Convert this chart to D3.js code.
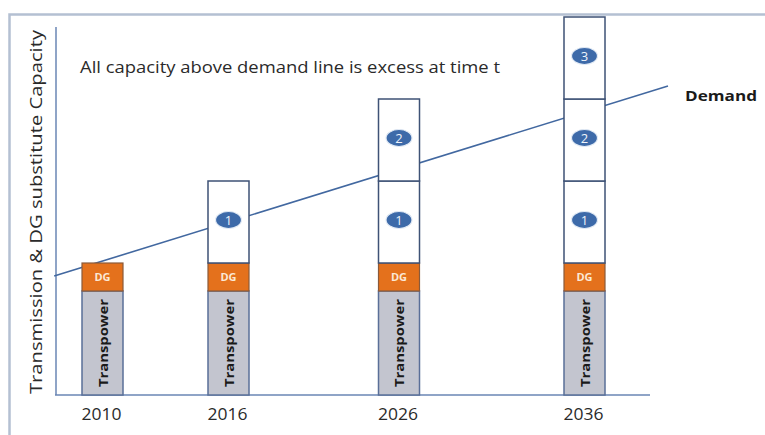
<!DOCTYPE html>
<html>
<head>
<meta charset="utf-8">
<script src="https://cdn.jsdelivr.net/npm/d3@7"></script>
<style>
  html, body { margin: 0; padding: 0; background: #fff; }
  svg { display: block; }
</style>
</head>
<body>
<svg id="chart" width="765" height="435"></svg>
<script>
// ---- data ----
const years = [2010, 2016, 2026, 2036];
const transpower = [10.4, 10.4, 10.4, 10.4];
const dg = [2.8, 2.8, 2.8, 2.8];
const upgradeBlocks = [0, 1, 2, 3];      // number of numbered capacity blocks per year
const blockSize = 8.2;
const demandYears = [2007.7, 2040.5];
const demandValues = [11.9, 30.9];
const annotation = "All capacity above demand line is excess at time t";
const yLabel = "Transmission & DG substitute Capacity";

// ---- layout ----
const svg = d3.select("#chart");
const x = d3.scaleLinear().domain(years).range([102.5, 228.5, 399, 584.5]);
const y = d3.scaleLinear().domain([0, 38]).range([395, 15]);
const barW = 41;
const font = "Open Sans, sans-serif";

// outer frame
svg.append("path")
  .attr("d", "M9.5,435 L9.5,14.5 L765,14.5")
  .attr("fill", "none").attr("stroke", "#b4c0d2").attr("stroke-width", 2.5);

// axes
svg.append("line").attr("x1", 56).attr("x2", 56).attr("y1", 27).attr("y2", y(0))
  .attr("stroke", "#6a86b4").attr("stroke-width", 1.5);
svg.append("line").attr("x1", 55).attr("x2", 650).attr("y1", y(0)).attr("y2", y(0))
  .attr("stroke", "#6a86b4").attr("stroke-width", 1.5);

// demand line (drawn beneath the bars)
const line = d3.line().x(d => x(d[0])).y(d => y(d[1]));
svg.append("path")
  .datum(demandYears.map((yr, i) => [yr, demandValues[i]]))
  .attr("d", line)
  .attr("fill", "none").attr("stroke", "#4268a0").attr("stroke-width", 1.6);

const bars = years.map((yr, i) => ({yr, tp: transpower[i], dg: dg[i], n: upgradeBlocks[i]}));
const strokeCol = "#3e5276";

const g = svg.selectAll("g.bar").data(bars).enter().append("g").attr("class", "bar");

// Transpower
g.append("rect")
  .attr("x", d => x(d.yr) - barW / 2).attr("width", barW)
  .attr("y", d => y(d.tp)).attr("height", d => y(0) - y(d.tp))
  .attr("fill", "#c3c5cf").attr("stroke", "#5a6f98").attr("stroke-width", 1.5);
g.append("text")
  .attr("transform", d => `translate(${x(d.yr) + 5},${(y(0) + y(d.tp)) / 2}) rotate(-90)`)
  .attr("text-anchor", "middle")
  .attr("font-family", font).attr("font-weight", "bold")
  .attr("font-size", 12.5).attr("fill", "#1a1a1a")
  .attr("textLength", 88).attr("lengthAdjust", "spacingAndGlyphs")
  .text("Transpower");

// DG
g.append("rect")
  .attr("x", d => x(d.yr) - barW / 2).attr("width", barW)
  .attr("y", d => y(d.tp + d.dg)).attr("height", d => y(d.tp) - y(d.tp + d.dg))
  .attr("fill", "#e4711c").attr("stroke", "#8a5a3a").attr("stroke-width", 1.2);
g.append("text")
  .attr("x", d => x(d.yr)).attr("y", d => (y(d.tp) + y(d.tp + d.dg)) / 2 + 4)
  .attr("text-anchor", "middle")
  .attr("font-family", font).attr("font-weight", "bold")
  .attr("font-size", 11).attr("fill", "#fbe8d6")
  .text("DG");

// numbered blocks
const blocks = [];
bars.forEach(d => {
  for (let k = 1; k <= d.n; k++) {
    blocks.push({yr: d.yr, k, lo: d.tp + d.dg + (k - 1) * blockSize, hi: d.tp + d.dg + k * blockSize});
  }
});
const bg = svg.selectAll("g.block").data(blocks).enter().append("g").attr("class", "block");
bg.append("rect")
  .attr("x", d => x(d.yr) - barW / 2).attr("width", barW)
  .attr("y", d => y(d.hi)).attr("height", d => y(d.lo) - y(d.hi))
  .attr("fill", "#fff").attr("stroke", strokeCol).attr("stroke-width", 1.5);
bg.append("ellipse")
  .attr("cx", d => x(d.yr)).attr("cy", d => (y(d.lo) + y(d.hi)) / 2 - 2)
  .attr("rx", 13).attr("ry", 8.5)
  .attr("fill", "#3d6aa9").attr("stroke", "#e3ebf5").attr("stroke-width", 1.2);
bg.append("text")
  .attr("x", d => x(d.yr)).attr("y", d => (y(d.lo) + y(d.hi)) / 2 + 2.5)
  .attr("text-anchor", "middle")
  .attr("font-family", font)
  .attr("font-size", 13).attr("fill", "#eef3fa")
  .text(d => d.k);

svg.append("text")
  .attr("x", 685).attr("y", 101)
  .attr("font-family", font).attr("font-weight", "bold")
  .attr("font-size", 15).attr("fill", "#1a1a1a")
  .attr("textLength", 72).attr("lengthAdjust", "spacingAndGlyphs")
  .text("Demand");

// annotation
svg.append("text")
  .attr("x", 80).attr("y", 73)
  .attr("font-family", font)
  .attr("font-size", 16).attr("fill", "#2a2a2a")
  .attr("textLength", 420).attr("lengthAdjust", "spacingAndGlyphs")
  .text(annotation);

// x tick labels
svg.selectAll("text.year").data(years).enter().append("text")
  .attr("class", "year")
  .attr("x", d => x(d) - 1).attr("y", 420)
  .attr("text-anchor", "middle")
  .attr("font-family", font)
  .attr("font-size", 17).attr("fill", "#2a2a2a")
  .attr("textLength", 40).attr("lengthAdjust", "spacingAndGlyphs")
  .text(d => d);

// y label
svg.append("text")
  .attr("transform", "translate(42,212) rotate(-90)")
  .attr("text-anchor", "middle")
  .attr("font-family", font)
  .attr("font-size", 15.5).attr("fill", "#2a2a2a")
  .attr("textLength", 364).attr("lengthAdjust", "spacingAndGlyphs")
  .text(yLabel);
</script>
</body>
</html>
